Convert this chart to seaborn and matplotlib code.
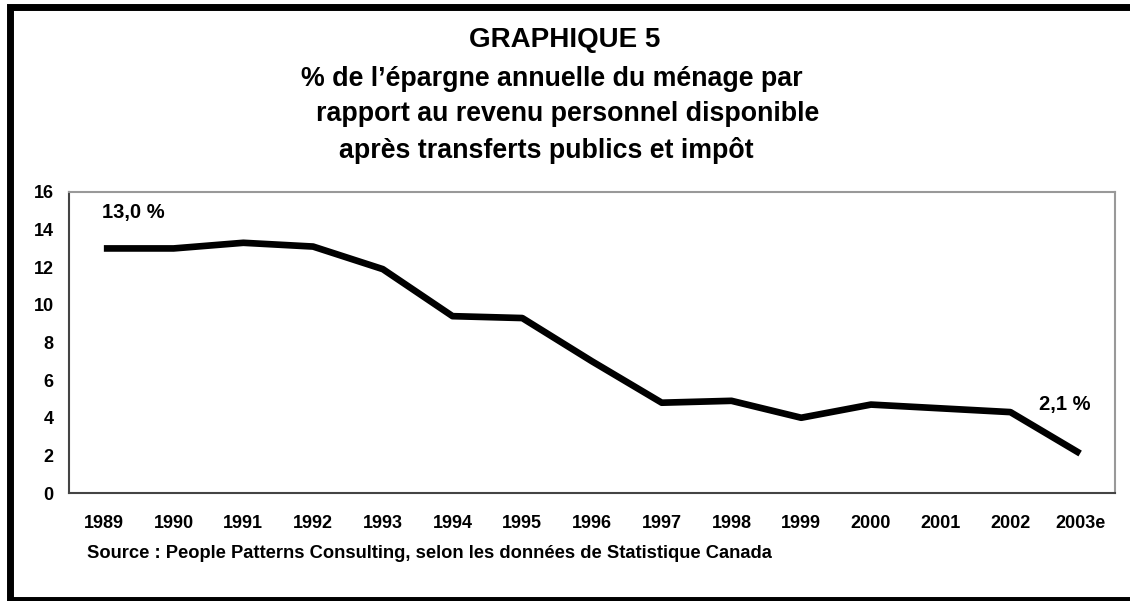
import numpy as np
import seaborn as sns
import pandas as pd
import matplotlib.pyplot as plt
from matplotlib.lines import Line2D
from matplotlib.ticker import FixedLocator

# data
years = ["1989", "1990", "1991", "1992", "1993", "1994", "1995", "1996",
         "1997", "1998", "1999", "2000", "2001", "2002", "2003e"]
epargne = [13.0, 13.0, 13.3, 13.1, 11.9, 9.4, 9.3, 7.0,
           4.8, 4.9, 4.0, 4.7, 4.5, 4.3, 2.1]
yticks = [0, 2, 4, 6, 8, 10, 12, 14, 16]

titre = "GRAPHIQUE 5"
sous_titre = ["% de l\u2019épargne annuelle du ménage par",
              "rapport au revenu personnel disponible",
              "après transferts publics et impôt"]
source = "Source : People Patterns Consulting, selon les données de Statistique Canada"

df = pd.DataFrame({"annee": years, "epargne": epargne})

sns.set_style("white")
plt.rcParams["font.family"] = ["Liberation Sans", "DejaVu Sans"]
plt.rcParams["font.weight"] = "bold"
plt.rcParams["text.color"] = "black"
plt.rcParams["xtick.color"] = "black"
plt.rcParams["ytick.color"] = "black"

fig = plt.figure(figsize=(11.3, 6.01), dpi=100)
ax = fig.add_axes([69/1130, 1-493/601, (1115-69)/1130, (493-192)/601])

sns.lineplot(data=df, x="annee", y="epargne", ax=ax, color="black",
             linewidth=4.8, sort=False)
ax.lines[0].set_solid_capstyle("butt")
ax.lines[0].set_solid_joinstyle("round")

ax.set_xlim(-0.5, len(years)-0.5)
ax.set_ylim(0, 16)
ax.set_yticks(yticks)
ax.set_yticklabels([str(v) for v in yticks], fontsize=13, fontweight="bold")
ax.set_xticks(range(len(years)))
ax.set_xticklabels(years, fontsize=13, fontweight="bold")
ax.xaxis.set_minor_locator(FixedLocator(np.arange(-0.5, len(years), 1.0)))
ax.tick_params(axis="x", which="major", length=0, pad=15.5)
ax.tick_params(axis="x", which="minor", length=6, width=1, color="#333333", direction="out")
ax.tick_params(axis="y", length=7, width=1, color="#333333", direction="out", pad=4)
ax.set_xlabel("")
ax.set_ylabel("")

for s in ["left", "bottom"]:
    ax.spines[s].set_color("#444444")
    ax.spines[s].set_linewidth(1.5)
for s in ["top", "right"]:
    ax.spines[s].set_color("#999999")
    ax.spines[s].set_linewidth(1.5)

ax.annotate("13,0 %", xy=(0, epargne[0]), xytext=(21, 26), textcoords="offset points",
            ha="center", va="center", fontsize=14.5, fontweight="bold")
ax.annotate("2,1 %", xy=(len(years)-1, epargne[-1]), xytext=(-11, 35), textcoords="offset points",
            ha="center", va="center", fontsize=14.5, fontweight="bold")

fig.text(565/1130, 1-40/601, titre, ha="center", va="center", fontsize=20, fontweight="bold")
fig.text(552/1130, 1-79/601, sous_titre[0], ha="center", va="center", fontsize=19.3, fontweight="bold")
fig.text(568/1130, 1-114/601, sous_titre[1], ha="center", va="center", fontsize=19.3, fontweight="bold")
fig.text(546/1130, 1-150/601, sous_titre[2], ha="center", va="center", fontsize=19.3, fontweight="bold")
fig.text(87/1130, 1-554/601, source, ha="left", va="center", fontsize=13.2, fontweight="bold")

# cadre noir (ouvert a droite)
fig.add_artist(Line2D([1.0, 9.5/1130, 9.5/1130, 1.0],
                      [1-6.5/601, 1-6.5/601, 1-599.5/601, 1-599.5/601],
                      transform=fig.transFigure, color="black", linewidth=5,
                      solid_joinstyle="miter", solid_capstyle="butt"))

fig.savefig("out.png", dpi=100)
